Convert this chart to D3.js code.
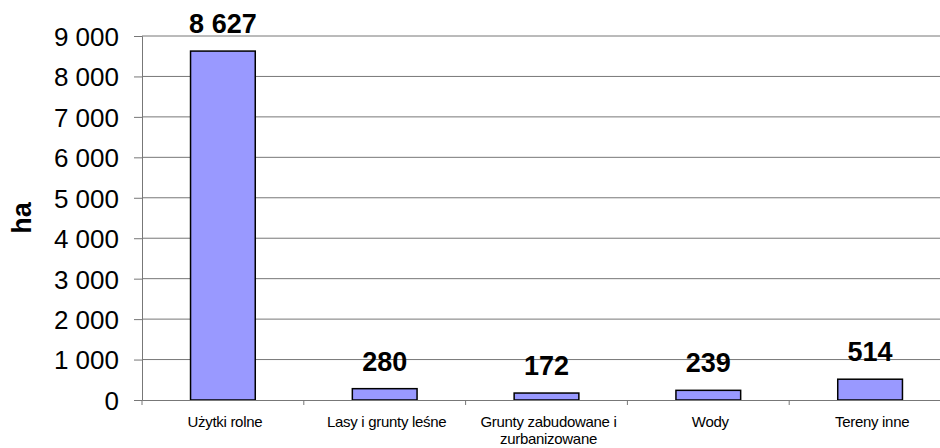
<!DOCTYPE html>
<html>
<head>
<meta charset="utf-8">
<script src="https://cdn.jsdelivr.net/npm/d3@7"></script>
<style>
  body { margin: 0; background: #fff; }
  svg { display: block; font-family: "Liberation Sans", Arial, sans-serif; }
</style>
</head>
<body>
<svg width="940" height="448"></svg>
<script>
const categories = ["Użytki rolne", "Lasy i grunty leśne", "Grunty zabudowane i zurbanizowane", "Wody", "Tereny inne"];
const values = [8627, 280, 172, 239, 514];
const yTicks = [0, 1000, 2000, 3000, 4000, 5000, 6000, 7000, 8000, 9000];
const yLabel = "ha";

const svg = d3.select("svg");
const plotLeft = 142, plotRight = 951, plotTop = 36, plotBottom = 400;

const x = d3.scaleBand().domain(categories).range([plotLeft, plotRight]).padding(0);
const y = d3.scaleLinear().domain([0, 9000]).range([plotBottom, plotTop]);
const fmt = (d) => d3.format(",")(d).replace(/,/g, " ");

// grid lines
svg.append("g")
    .selectAll("line")
    .data(yTicks.filter(d => d > 0))
    .enter()
    .append("line")
    .attr("x1", plotLeft)
    .attr("x2", 940)
    .attr("y1", d => y(d))
    .attr("y2", d => y(d))
    .attr("stroke", "#777")
    .attr("stroke-width", 1);

// y axis
const yAxis = svg.append("g")
    .attr("transform", `translate(${plotLeft},0)`)
    .call(d3.axisLeft(y).tickValues(yTicks).tickFormat(fmt).tickSize(8).tickPadding(15));
yAxis.select(".domain").attr("stroke", "#777");
yAxis.selectAll(".tick line").attr("stroke", "#777");
yAxis.selectAll(".tick text")
    .attr("font-size", "26px")
    .attr("font-family", "Liberation Sans, Arial, sans-serif")
    .attr("fill", "#000")
    .attr("dy", "0.36em");

// bars
const barW = x.bandwidth() * 0.4;
svg.append("g")
    .selectAll("rect")
    .data(values)
    .enter()
    .append("rect")
    .attr("x", (d, i) => x(categories[i]) + x.bandwidth() / 2 - barW / 2)
    .attr("y", d => y(d))
    .attr("width", barW)
    .attr("height", d => plotBottom - y(d))
    .attr("fill", "#9999ff")
    .attr("stroke", "#000")
    .attr("stroke-width", 1.5);

// x axis
const xAxis = svg.append("g")
    .attr("transform", `translate(0,${plotBottom})`)
    .call(d3.axisBottom(x).tickSize(0).tickFormat(""));
xAxis.select(".domain").attr("stroke", "#777");
// tick marks at band boundaries
xAxis.selectAll(".bound")
    .data(categories)
    .enter()
    .append("line")
    .attr("x1", d => x(d))
    .attr("x2", d => x(d))
    .attr("y1", 0)
    .attr("y2", 5)
    .attr("stroke", "#777");

// category labels with wrapping
categories.forEach((c, i) => {
    const cx = x(c) + x.bandwidth() / 2 + 2;
    const t = svg.append("text")
        .attr("x", cx)
        .attr("y", 427)
        .attr("text-anchor", "middle")
        .attr("font-size", "15px")
        .attr("letter-spacing", "-0.3px")
        .attr("fill", "#000");
    const words = c.split(" ");
    let line = [];
    let tspan = t.append("tspan").attr("x", cx);
    words.forEach(w => {
        line.push(w);
        tspan.text(line.join(" "));
        if (tspan.node().getComputedTextLength() > 140 && line.length > 1) {
            line.pop();
            tspan.text(line.join(" "));
            line = [w];
            tspan = t.append("tspan")
                .attr("x", cx)
                .attr("dy", "17px")
                .text(w);
        }
    });
});

// value labels
svg.append("g")
    .selectAll("text")
    .data(values)
    .enter()
    .append("text")
    .attr("x", (d, i) => x(categories[i]) + x.bandwidth() / 2)
    .attr("y", d => y(d) - 18)
    .attr("text-anchor", "middle")
    .attr("font-size", "27px")
    .attr("font-weight", "bold")
    .attr("fill", "#000")
    .text(fmt);

// y axis title
svg.append("text")
    .attr("transform", `translate(31,${(plotTop + plotBottom) / 2}) rotate(-90)`)
    .attr("text-anchor", "middle")
    .attr("font-size", "27px")
    .attr("font-weight", "bold")
    .attr("fill", "#000")
    .text(yLabel);
</script>
</body>
</html>
